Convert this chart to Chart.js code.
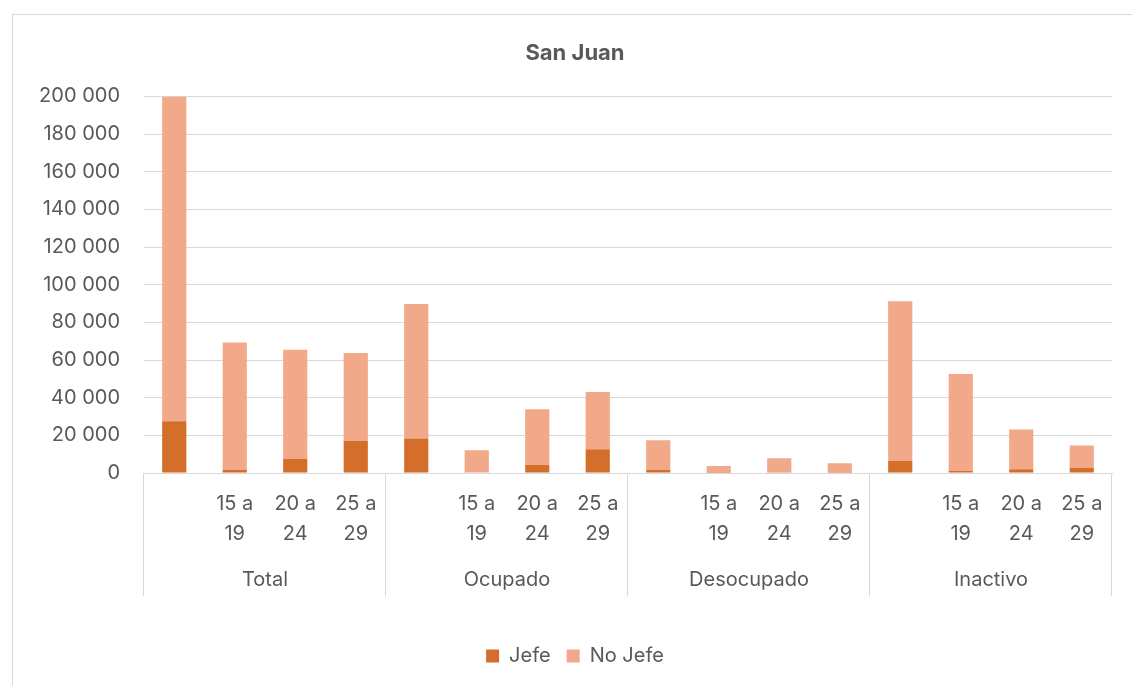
<!DOCTYPE html>
<html lang="es">
<head>
    <meta charset="UTF-8">
    <title>San Juan</title>
    <script src="https://cdn.jsdelivr.net/npm/chart.js"></script>
    <style>
        html, body {
            margin: 0;
            padding: 0;
            overflow: hidden;
            background: #fff;
        }
        #frame {
            position: absolute;
            left: 12px;
            top: 14px;
            width: 1200px;
            height: 700px;
            border-left: 1px solid #d9d9d9;
            border-top: 1px solid #d9d9d9;
        }
        #wrap {
            position: absolute;
            left: 0;
            top: 0;
            width: 1132px;
            height: 686px;
        }
    </style>
</head>
<body>
    <div id="frame"></div>
    <div id="wrap">
        <canvas id="sanJuanChart"></canvas>
    </div>
    <script>
        const groups = ['Total', 'Ocupado', 'Desocupado', 'Inactivo'];
        const ageLabels = ['', ['15 a', '19'], ['20 a', '24'], ['25 a', '29']];
        const jefe = [27500, 1600, 7500, 17100, 18300, 300, 4300, 12600, 1600, 100, 400, 500, 6400, 1200, 2000, 2800];
        const noJefe = [172500, 67700, 57900, 46600, 71500, 11800, 29500, 30400, 15800, 3600, 7400, 4700, 84800, 51400, 21100, 11800];
        const yTicks = [0, 20000, 40000, 60000, 80000, 100000, 120000, 140000, 160000, 180000, 200000];

        const labels = [];
        groups.forEach(() => ageLabels.forEach(a => labels.push(a)));

        const textColor = '#595959';
        const gridColor = '#d9d9d9';
        const fontFamily = "Inter, 'Liberation Sans', Arial, sans-serif";
        const axisDepth = 123;

        // lineas separadoras y etiquetas de grupo
        const groupAxis = {
            id: 'groupAxis',
            afterDraw(chart) {
                const { ctx, chartArea } = chart;
                const x = chart.scales.x;
                const per = ageLabels.length;
                ctx.save();
                ctx.strokeStyle = gridColor;
                ctx.lineWidth = 1;
                for (let g = 0; g <= groups.length; g++) {
                    const b = g * per;
                    let px;
                    if (b === 0) px = chartArea.left;
                    else if (b === labels.length) px = chartArea.right;
                    else px = (x.getPixelForValue(b - 1) + x.getPixelForValue(b)) / 2;
                    px = Math.round(px) - 0.5;
                    ctx.beginPath();
                    ctx.moveTo(px, chartArea.bottom);
                    ctx.lineTo(px, chartArea.bottom + axisDepth);
                    ctx.stroke();
                }
                ctx.fillStyle = textColor;
                ctx.font = '20px ' + fontFamily;
                ctx.textAlign = 'center';
                ctx.textBaseline = 'middle';
                groups.forEach((name, g) => {
                    const a = x.getPixelForValue(g * per);
                    const b = x.getPixelForValue(g * per + per - 1);
                    ctx.fillText(name, (a + b) / 2, chartArea.bottom + 107);
                });
                ctx.restore();
            }
        };

        const ctx = document.getElementById('sanJuanChart').getContext('2d');
        const chart = new Chart(ctx, {
            type: 'bar',
            data: {
                labels: labels,
                datasets: [{
                    label: 'Jefe',
                    data: jefe,
                    backgroundColor: '#d46f2b',
                    barPercentage: 0.4,
                    categoryPercentage: 1
                }, {
                    label: 'No Jefe',
                    data: noJefe,
                    backgroundColor: '#f1a98a',
                    barPercentage: 0.4,
                    categoryPercentage: 1
                }]
            },
            options: {
                responsive: true,
                maintainAspectRatio: false,
                animation: false,
                layout: {
                    padding: { left: 38, right: 20, top: 0, bottom: 10 }
                },
                scales: {
                    x: {
                        stacked: true,
                        grid: { display: false, drawTicks: false },
                        border: { display: true, color: gridColor },
                        ticks: {
                            color: textColor,
                            font: { family: fontFamily, size: 20, lineHeight: 1.5 },
                            padding: 16,
                            maxRotation: 0,
                            autoSkip: false
                        },
                        afterFit(scale) { scale.height = 157; }
                    },
                    y: {
                        stacked: true,
                        min: 0,
                        max: 200000,
                        afterBuildTicks(scale) { scale.ticks = yTicks.map(v => ({ value: v })); },
                        grid: { color: gridColor, drawTicks: false },
                        border: { display: false },
                        ticks: {
                            color: textColor,
                            font: { family: fontFamily, size: 20 },
                            padding: 24,
                            callback: v => String(v).replace(/\B(?=(\d{3})+(?!\d))/g, ' ')
                        },
                        afterFit(scale) { scale.width = 106; }
                    }
                },
                plugins: {
                    title: {
                        display: true,
                        text: 'San Juan',
                        color: textColor,
                        font: { family: fontFamily, size: 22, weight: 'bold' },
                        padding: { top: 40, bottom: 30 }
                    },
                    legend: {
                        position: 'bottom',
                        labels: {
                            color: textColor,
                            font: { family: fontFamily, size: 20 },
                            boxWidth: 13,
                            boxHeight: 13,
                            padding: 16
                        }
                    },
                    tooltip: { enabled: false }
                }
            },
            plugins: [groupAxis]
        });
    </script>
</body>
</html>
